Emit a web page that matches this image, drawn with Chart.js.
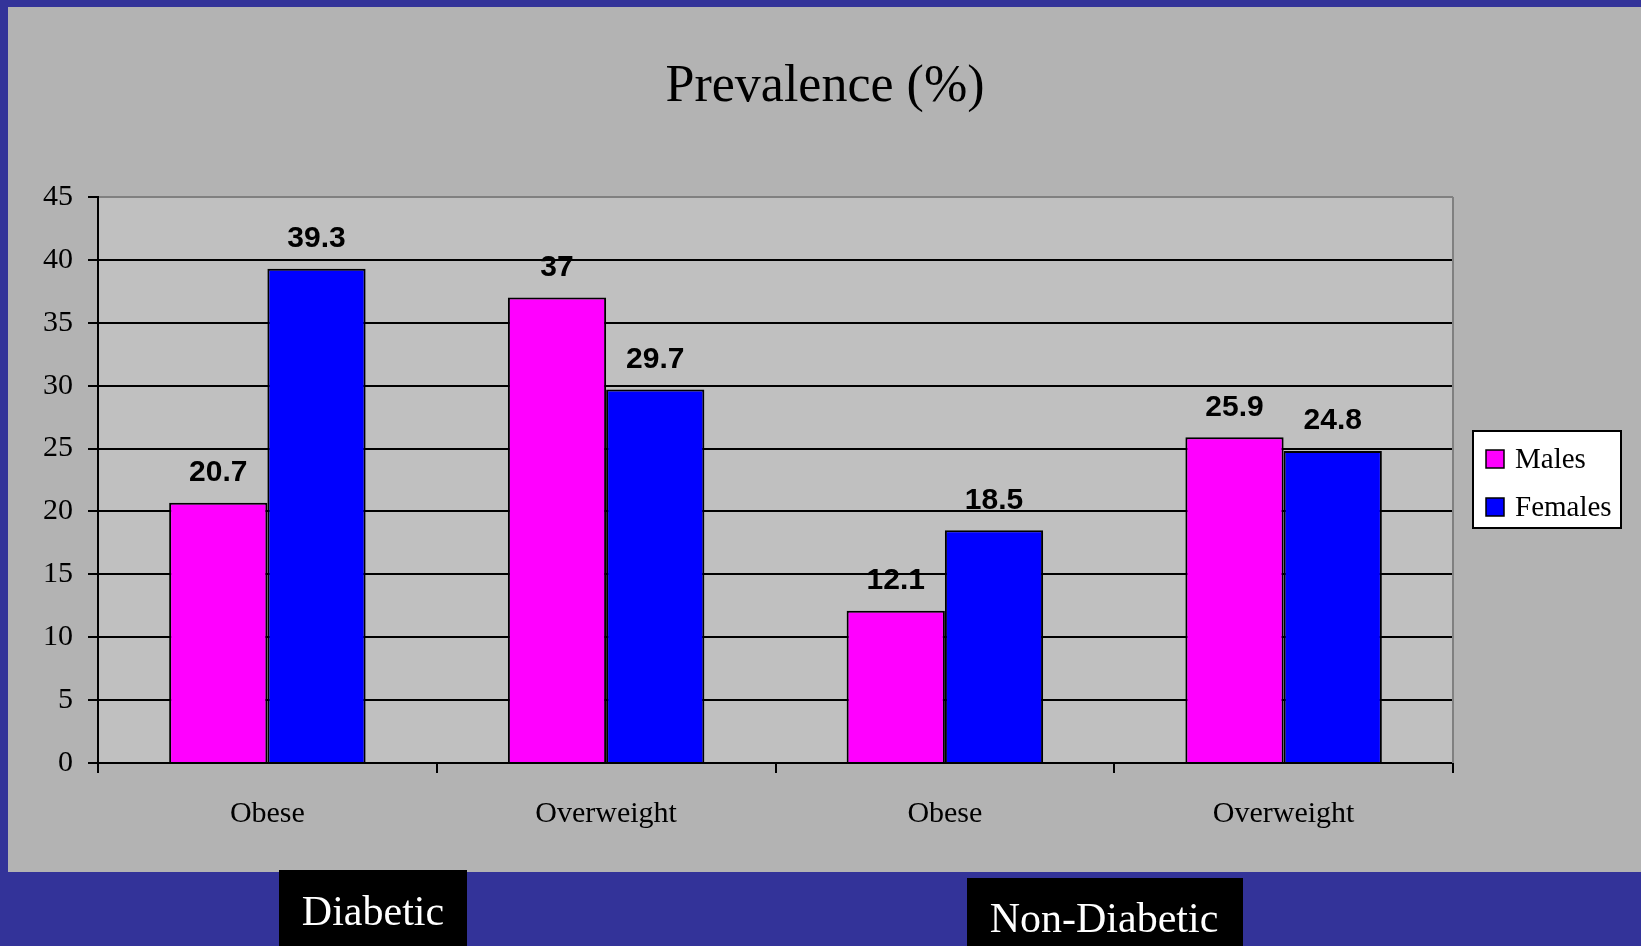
<!DOCTYPE html>
<html>
<head>
<meta charset="utf-8">
<style>
  html, body { margin: 0; padding: 0; background: #333399; }
  canvas { display: block; }
</style>
<script src="https://cdn.jsdelivr.net/npm/chart.js@4/dist/chart.umd.min.js"></script>
</head>
<body>
<canvas id="chart" width="1641" height="946"></canvas>
<script>
// Prevalence of obesity / overweight by sex, diabetic vs non-diabetic
const categories = ['Obese', 'Overweight', 'Obese', 'Overweight'];
const males = [20.7, 37, 12.1, 25.9];
const females = [39.3, 29.7, 18.5, 24.8];
const seriesNames = ['Males', 'Females'];
const yTicks = [0, 5, 10, 15, 20, 25, 30, 35, 40, 45];
const titleText = 'Prevalence (%)';
const groupLabels = ['Diabetic', 'Non-Diabetic'];

const SERIF = '"Liberation Serif", "Times New Roman", serif';
const SANS = '"Liberation Sans", Arial, sans-serif';

const slidePlugin = {
  id: 'slide',
  beforeDraw(chart) {
    const ctx = chart.ctx;
    const a = chart.chartArea;
    ctx.save();
    ctx.fillStyle = '#333399';
    ctx.fillRect(0, 0, chart.width, chart.height);
    ctx.fillStyle = '#b3b3b3';
    ctx.fillRect(8, 7, chart.width - 8, 865);
    ctx.fillStyle = '#c0c0c0';
    ctx.fillRect(a.left, a.top, a.right - a.left, a.bottom - a.top);
    ctx.restore();
  },
  afterDraw(chart) {
    const ctx = chart.ctx;
    const a = chart.chartArea;
    ctx.save();
    // right edge of the plot frame
    ctx.strokeStyle = '#808080';
    ctx.lineWidth = 2;
    ctx.beginPath();
    ctx.moveTo(a.right, a.top);
    ctx.lineTo(a.right, a.bottom);
    ctx.stroke();

    // title
    ctx.fillStyle = '#000';
    ctx.font = '52px ' + SERIF;
    ctx.textAlign = 'center';
    ctx.textBaseline = 'middle';
    ctx.fillText(titleText, 825, 87);

    // value labels above each bar
    ctx.font = 'bold 30px ' + SANS;
    ctx.textBaseline = 'middle';
    chart.data.datasets.forEach((ds, di) => {
      const meta = chart.getDatasetMeta(di);
      meta.data.forEach((bar, i) => {
        ctx.fillText(String(ds.data[i]), bar.x, bar.y - 30);
      });
    });

    // legend
    ctx.fillStyle = '#fff';
    ctx.fillRect(1473, 431, 148, 97);
    ctx.strokeStyle = '#000';
    ctx.lineWidth = 2;
    ctx.strokeRect(1473, 431, 148, 97);
    ctx.font = '29px ' + SERIF;
    ctx.textAlign = 'left';
    chart.data.datasets.forEach((ds, di) => {
      const y = 450 + di * 48;
      ctx.fillStyle = ds.backgroundColor;
      ctx.fillRect(1486, y, 18, 18);
      ctx.lineWidth = 1.5;
      ctx.strokeStyle = '#000';
      ctx.strokeRect(1486, y, 18, 18);
      ctx.fillStyle = '#000';
      ctx.fillText(ds.label, 1515, y + 10);
    });

    // group captions
    const boxes = [
      { x: 279, y: 870, w: 188, h: 76, cx: 373, cy: 914 },
      { x: 967, y: 878, w: 276, h: 68, cx: 1104, cy: 921 }
    ];
    ctx.font = '42px ' + SERIF;
    ctx.textAlign = 'center';
    boxes.forEach((b, i) => {
      ctx.fillStyle = '#000';
      ctx.fillRect(b.x, b.y, b.w, b.h);
      ctx.fillStyle = '#fff';
      ctx.fillText(groupLabels[i], b.cx, b.cy);
    });
    ctx.restore();
  }
};

new Chart(document.getElementById('chart'), {
  type: 'bar',
  data: {
    labels: categories,
    datasets: [
      { label: seriesNames[0], data: males, backgroundColor: '#ff00ff', borderColor: '#000', borderWidth: 2 },
      { label: seriesNames[1], data: females, backgroundColor: '#0000ff', borderColor: '#000', borderWidth: 2 }
    ]
  },
  options: {
    responsive: false,
    animation: false,
    devicePixelRatio: 1,
    datasets: { bar: { categoryPercentage: 0.58, barPercentage: 1 } },
    layout: { padding: { left: 0, top: 197, right: 188, bottom: 0 } },
    plugins: { legend: { display: false }, title: { display: false }, tooltip: { enabled: false } },
    scales: {
      x: {
        afterFit(scale) { scale.height = 183; },
        grid: { display: true, drawOnChartArea: false, drawTicks: true, tickLength: 10, offset: true, color: '#000', lineWidth: 2 },
        border: { display: true, color: '#000', width: 2 },
        ticks: { color: '#000', font: { family: SERIF, size: 30 }, padding: 23, maxRotation: 0 }
      },
      y: {
        min: 0,
        max: 45,
        afterFit(scale) { scale.width = 98; },
        afterBuildTicks(scale) { scale.ticks = yTicks.map(v => ({ value: v })); },
        grid: {
          color: c => (c.tick && c.tick.value === 45 ? '#808080' : '#000'),
          tickColor: '#000',
          lineWidth: 2,
          tickLength: 10
        },
        border: { display: true, color: '#000', width: 2 },
        ticks: { color: '#000', font: { family: SERIF, size: 30 }, padding: 15 }
      }
    }
  },
  plugins: [slidePlugin]
});
</script>
</body>
</html>
